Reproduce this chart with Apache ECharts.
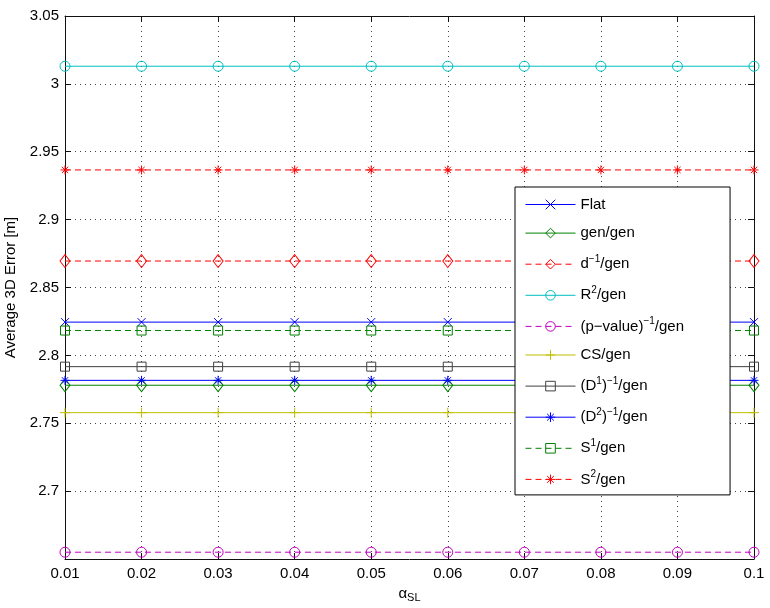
<!DOCTYPE html>
<html>
<head>
<meta charset="utf-8">
<script src="https://cdn.jsdelivr.net/npm/echarts@6/dist/echarts.min.js"></script>
<style>html,body{margin:0;padding:0;background:#fff;}#c{width:770px;height:608px;}</style>
</head>
<body>
<div id="c"></div>
<script>
const xValues = [0.01, 0.02, 0.03, 0.04, 0.05, 0.06, 0.07, 0.08, 0.09, 0.1];
const flat    = [2.8245, 2.8245, 2.8245, 2.8245, 2.8245, 2.8245, 2.8245, 2.8245, 2.8245, 2.8245];
const genGen  = [2.7780, 2.7780, 2.7780, 2.7780, 2.7780, 2.7780, 2.7780, 2.7780, 2.7780, 2.7780];
const dInvGen = [2.8695, 2.8695, 2.8695, 2.8695, 2.8695, 2.8695, 2.8695, 2.8695, 2.8695, 2.8695];
const r2Gen   = [3.0130, 3.0130, 3.0130, 3.0130, 3.0130, 3.0130, 3.0130, 3.0130, 3.0130, 3.0130];
const pValGen = [2.6550, 2.6550, 2.6550, 2.6550, 2.6550, 2.6550, 2.6550, 2.6550, 2.6550, 2.6550];
const csGen   = [2.7578, 2.7578, 2.7578, 2.7578, 2.7578, 2.7578, 2.7578, 2.7578, 2.7578, 2.7578];
const d1Gen   = [2.7917, 2.7917, 2.7917, 2.7917, 2.7917, 2.7917, 2.7917, 2.7917, 2.7917, 2.7917];
const d2Gen   = [2.7816, 2.7816, 2.7816, 2.7816, 2.7816, 2.7816, 2.7816, 2.7816, 2.7816, 2.7816];
const s1Gen   = [2.8183, 2.8183, 2.8183, 2.8183, 2.8183, 2.8183, 2.8183, 2.8183, 2.8183, 2.8183];
const s2Gen   = [2.9366, 2.9366, 2.9366, 2.9366, 2.9366, 2.9366, 2.9366, 2.9366, 2.9366, 2.9366];
const seriesNames = ['Flat', 'gen/gen', 'd^−1/gen', 'R^2/gen', '(p−value)^−1/gen', 'CS/gen', '(D^1)^−1/gen', '(D^2)^−1/gen', 'S^1/gen', 'S^2/gen'];
const yTicks = { min: 2.65, max: 3.05, step: 0.05 };
const xTicks = { min: 0.01, max: 0.1, step: 0.01 };

const SYM_X = 'path://M0 0L10 10M10 0L0 10';
const SYM_PLUS = 'path://M5 0L5 10M0 5L10 5';
const SYM_STAR = 'path://M5 0L5 10M0 5L10 5M1.5 1.5L8.5 8.5M8.5 1.5L1.5 8.5';

const styles = [
  { data: flat,    color: '#0000ff', dash: 'solid',  symbol: SYM_X,      size: 8 },
  { data: genGen,  color: '#008000', dash: 'solid',  symbol: 'diamond',  size: [10, 13] },
  { data: dInvGen, color: '#ff0000', dash: [6, 4],   symbol: 'diamond',  size: [10, 13] },
  { data: r2Gen,   color: '#00bfbf', dash: 'solid',  symbol: 'circle',   size: 10 },
  { data: pValGen, color: '#bf00bf', dash: [6, 4],   symbol: 'circle',   size: 10 },
  { data: csGen,   color: '#bfbf00', dash: 'solid',  symbol: SYM_PLUS,   size: 10 },
  { data: d1Gen,   color: '#404040', dash: 'solid',  symbol: 'rect',     size: 9 },
  { data: d2Gen,   color: '#0000ff', dash: 'solid',  symbol: SYM_STAR,   size: 9 },
  { data: s1Gen,   color: '#008000', dash: [6, 4],   symbol: 'rect',     size: 9 },
  { data: s2Gen,   color: '#ff0000', dash: [6, 4],   symbol: SYM_STAR,   size: 9 }
];

const series = styles.map((s, i) => ({
  name: seriesNames[i],
  type: 'line',
  xAxisIndex: 0,
  yAxisIndex: 0,
  clip: false,
  silent: true,
  animation: false,
  data: xValues.map((x, j) => [x, s.data[j]]),
  symbol: s.symbol,
  symbolSize: s.size,
  showAllSymbol: true,
  lineStyle: { color: s.color, width: 1, type: s.dash },
  itemStyle: { color: 'transparent', borderColor: s.color, borderWidth: 1 },
  emphasis: { disabled: true }
}));

function richName(name) {
  return name.split(/(\^[^/)]+)/).filter(p => p.length).map(p =>
    p[0] === '^' ? '{sup|' + p.slice(1) + '}' : '{t|' + p + '}'
  ).join('');
}

const FONT = 'Liberation Sans, Arial, Helvetica, sans-serif';
const fmt = v => String(parseFloat(v.toFixed(2)));

const gridLine = { show: true, lineStyle: { color: '#444', type: [1, 4], width: 1 } };
const axisLine = { show: true, onZero: false, lineStyle: { color: '#111', width: 1 } };
const tick = { show: true, inside: true, length: 6, lineStyle: { color: '#111' } };

const option = {
  backgroundColor: '#fff',
  animation: false,
  textStyle: { fontFamily: FONT },
  grid: { left: 65, right: 16, top: 16, bottom: 49, containLabel: false, outerBoundsMode: 'none' },
  xAxis: [
    {
      type: 'value', min: xTicks.min, max: xTicks.max, interval: xTicks.step,
      position: 'bottom',
      axisLine: axisLine, axisTick: tick, splitLine: gridLine,
      axisLabel: { color: '#000', fontSize: 15, fontFamily: FONT, margin: 7, formatter: fmt },
      name: '{a|α}{sub|SL}', nameLocation: 'middle', nameGap: 22,
      nameTextStyle: {
        rich: {
          a: { fontSize: 15, fontFamily: FONT, color: '#000', lineHeight: 20 },
          sub: { fontSize: 11, fontFamily: FONT, color: '#000', lineHeight: 12, verticalAlign: 'bottom' }
        }
      }
    },
    {
      type: 'value', min: xTicks.min, max: xTicks.max, interval: xTicks.step,
      position: 'top',
      axisLine: axisLine, axisTick: tick, splitLine: { show: false },
      axisLabel: { show: false }
    }
  ],
  yAxis: [
    {
      type: 'value', min: yTicks.min, max: yTicks.max, interval: yTicks.step,
      position: 'left',
      axisLine: axisLine, axisTick: tick, splitLine: gridLine,
      axisLabel: {
        color: '#000', fontSize: 15, fontFamily: FONT, margin: 6,
        formatter: v => (Math.abs(v - yTicks.min) < 1e-6 ? '' : fmt(v))
      },
      name: 'Average 3D Error [m]', nameLocation: 'middle', nameGap: 47, nameRotate: 90,
      nameTextStyle: { color: '#000', fontSize: 15, fontFamily: FONT }
    },
    {
      type: 'value', min: yTicks.min, max: yTicks.max, interval: yTicks.step,
      position: 'right',
      axisLine: axisLine, axisTick: tick, splitLine: { show: false },
      axisLabel: { show: false }
    }
  ],
  legend: {
    orient: 'vertical',
    left: 515, top: 187,
    padding: [10, 46, 8, 10],
    itemWidth: 50, itemHeight: 12, itemGap: 13.6,
    itemStyle: { borderWidth: 1 },
    lineStyle: { width: 1 },
    backgroundColor: '#fff',
    borderColor: '#000', borderWidth: 1, borderRadius: 0,
    selectedMode: false,
    data: seriesNames,
    formatter: richName,
    textStyle: {
      color: '#000', fontSize: 15, fontFamily: FONT,
      rich: {
        t: { fontSize: 15, fontFamily: FONT, color: '#000', lineHeight: 20 },
        sup: { fontSize: 10, fontFamily: FONT, color: '#000', lineHeight: 13, verticalAlign: 'top' }
      }
    }
  },
  series: series
};

const chart = echarts.init(document.getElementById('c'), null, { renderer: 'canvas' });
chart.setOption(option);
</script>
</body>
</html>
